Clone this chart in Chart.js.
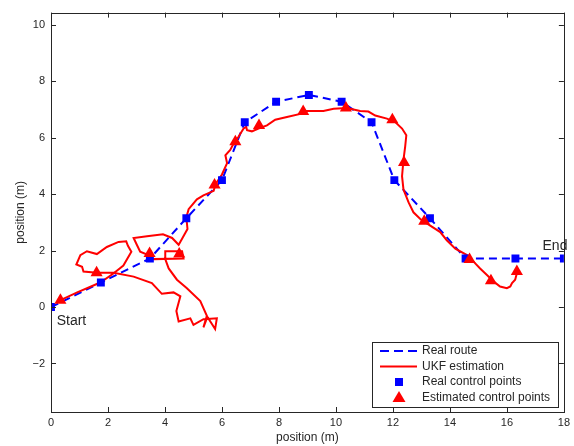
<!DOCTYPE html>
<html>
<head>
<meta charset="utf-8">
<script src="https://cdn.jsdelivr.net/npm/chart.js@4/dist/chart.umd.min.js"></script>
<style>
  html, body { margin: 0; padding: 0; background: #fff; }
  #wrap { width: 574px; height: 446px; }
</style>
</head>
<body>
<div id="wrap"><canvas id="chart" width="574" height="446"></canvas></div>
<script>
// Real route / control points (m)
const realX = [0, 1.75, 3.47, 4.75, 6.0, 6.8, 7.9, 9.05, 10.2, 11.25, 12.05, 13.3, 14.55, 16.3, 18];
const realY = [0, 0.87, 1.72, 3.15, 4.5, 6.55, 7.28, 7.52, 7.28, 6.55, 4.5, 3.15, 1.72, 1.72, 1.72];

// Estimated control points (m)
const estX = [0.33, 1.6, 3.46, 4.5, 5.74, 6.47, 7.3, 8.85, 10.35, 11.98, 12.39, 13.1, 14.69, 15.44, 16.35];
const estY = [0.24, 1.22, 1.9, 1.88, 4.33, 5.86, 6.44, 6.93, 7.06, 6.64, 5.13, 3.04, 1.69, 0.93, 1.26];

// UKF estimated trajectory [x, y] (m)
const ukfPath = [
  [0.26,0.21],[0.92,0.52],[1.73,0.87],[2.19,1.19],[2.54,1.47],[2.82,1.96],
  [2.70,2.17],[2.64,2.33],[2.37,2.31],[1.96,2.13],[1.61,1.88],[1.26,1.98],[1.03,1.84],[0.89,1.51],[1.09,1.43],[1.14,1.26],[1.61,1.22],
  [2.20,1.22],[2.90,1.08],[3.54,0.85],[3.89,0.47],[4.30,0.52],[4.54,0.38],[4.40,-0.14],[4.48,-0.51],[4.89,-0.40],[5.00,-0.63],[5.35,-0.43],[5.82,-0.40],[5.76,-0.78],[5.49,-0.35],[5.35,-0.72],
  [5.47,-0.31],[5.24,0.21],[4.77,0.67],[4.42,0.97],[4.13,1.37],[4.01,1.70],
  [4.01,1.98],[4.60,1.98],[4.65,1.72],[3.60,1.70],[3.42,1.84],[3.13,1.96],[3.02,2.19],[2.90,2.45],[3.37,2.51],[3.93,2.58],[4.25,2.45],[4.48,2.21],[4.60,2.42],[4.79,2.77],[4.75,3.18],[4.83,3.47],
  [5.12,3.82],[5.35,3.96],[5.71,4.12],[5.77,4.35],[6.00,4.70],[6.18,5.10],[6.12,5.38],[6.29,5.57],[6.41,5.80],[6.58,6.04],[6.76,6.33],[6.85,6.39],[6.88,6.27],[7.05,6.23],[7.28,6.33],[7.58,6.44],[7.87,6.64],[8.28,6.74],[8.75,6.85],
  [8.86,6.95],[9.56,6.95],[9.92,7.03],[10.39,7.06],[10.85,6.95],[11.14,6.93],[11.38,6.79],[11.79,6.68],[12.08,6.56],[12.32,6.33],[12.47,6.09],[12.43,5.69],[12.37,5.22],[12.32,4.64],[12.37,4.17],[12.55,3.71],[12.72,3.36],[12.96,3.12],[13.31,2.89],[13.66,2.66],
  [13.89,2.37],[14.19,2.07],[14.60,1.84],[14.83,1.61],[15.06,1.37],[15.30,1.14],[15.53,0.91],[15.76,0.73],[16.00,0.67],[16.12,0.73],[16.18,0.85],[16.29,0.97],[16.35,1.20]
];

// Axis ticks
const xTicks = [0, 2, 4, 6, 8, 10, 12, 14, 16, 18];
const yTicks = [-2, 0, 2, 4, 6, 8, 10];

// Text annotations
const notes = [
  { text: 'Start', x: 0.2, y: -0.5 },
  { text: 'End', x: 17.25, y: 2.15 }
];
const legendLabels = ['Real route', 'UKF estimation', 'Real control points', 'Estimated control points'];

const FONT = '"Liberation Sans", Arial, Helvetica, sans-serif';
const INK = '#262626';
const BLUE = '#0000ff';
const RED = '#ff0000';

const toPts = (xs, ys) => xs.map((x, i) => ({ x: x, y: ys[i] }));

// Frame with inward ticks on all four sides, MATLAB style
const framePlugin = {
  id: 'frame',
  afterDatasetsDraw(chart) {
    const { ctx, chartArea: a, scales: { x, y } } = chart;
    ctx.save();
    ctx.strokeStyle = INK;
    ctx.lineWidth = 1;
    ctx.strokeRect(Math.round(a.left) + 0.5, Math.round(a.top) + 0.5,
      Math.round(a.right - a.left), Math.round(a.bottom - a.top));
    ctx.beginPath();
    const len = 5;
    xTicks.forEach(v => {
      const px = Math.round(x.getPixelForValue(v)) + 0.5;
      ctx.moveTo(px, a.bottom); ctx.lineTo(px, a.bottom - len);
      ctx.moveTo(px, a.top); ctx.lineTo(px, a.top + len);
    });
    yTicks.forEach(v => {
      const py = Math.round(y.getPixelForValue(v)) + 0.5;
      ctx.moveTo(a.left, py); ctx.lineTo(a.left + len, py);
      ctx.moveTo(a.right, py); ctx.lineTo(a.right - len, py);
    });
    ctx.stroke();
    ctx.restore();
  },
  afterDraw(chart) {
    const { ctx, scales: { x, y } } = chart;
    ctx.save();
    // Start / End labels
    ctx.fillStyle = INK;
    ctx.font = '14px ' + FONT;
    ctx.textAlign = 'left';
    ctx.textBaseline = 'middle';
    notes.forEach(n => ctx.fillText(n.text, x.getPixelForValue(n.x), y.getPixelForValue(n.y)));

    // legend box
    const L = 372, T = 342, R = 558, B = 407;
    ctx.fillStyle = '#fff';
    ctx.fillRect(L, T, R - L, B - T);
    ctx.strokeStyle = INK;
    ctx.lineWidth = 1;
    ctx.strokeRect(L + 0.5, T + 0.5, R - L, B - T);
    const rows = [351, 366.5, 382, 398];
    ctx.font = '12px ' + FONT;
    ctx.fillStyle = INK;
    legendLabels.forEach((t, i) => ctx.fillText(t, 422, rows[i]));

    ctx.lineWidth = 2;
    ctx.strokeStyle = BLUE;
    ctx.setLineDash([9, 5]);
    ctx.beginPath(); ctx.moveTo(380, rows[0]); ctx.lineTo(417, rows[0]); ctx.stroke();
    ctx.setLineDash([]);
    ctx.strokeStyle = RED;
    ctx.beginPath(); ctx.moveTo(380, rows[1]); ctx.lineTo(417, rows[1]); ctx.stroke();
    ctx.fillStyle = BLUE;
    ctx.fillRect(395, rows[2] - 4, 8, 8);
    ctx.fillStyle = RED;
    ctx.beginPath();
    ctx.moveTo(399, rows[3] - 7);
    ctx.lineTo(405.5, rows[3] + 4);
    ctx.lineTo(392.5, rows[3] + 4);
    ctx.closePath();
    ctx.fill();
    ctx.restore();
  }
};

new Chart(document.getElementById('chart'), {
  type: 'scatter',
  data: {
    datasets: [
      {
        label: 'Real route',
        data: toPts(realX, realY),
        showLine: true,
        borderColor: BLUE,
        borderWidth: 2,
        borderDash: [8, 5],
        pointRadius: 0,
        order: 4
      },
      {
        label: 'UKF estimation',
        data: ukfPath.map(p => ({ x: p[0], y: p[1] })),
        showLine: true,
        borderColor: RED,
        borderWidth: 2,
        pointRadius: 0,
        order: 3
      },
      {
        label: 'Real control points',
        data: toPts(realX, realY),
        pointStyle: 'rect',
        pointRadius: 5.6,
        backgroundColor: BLUE,
        borderColor: BLUE,
        borderWidth: 0,
        order: 2
      },
      {
        label: 'Estimated control points',
        data: toPts(estX, estY),
        pointStyle: 'triangle',
        pointRadius: 7,
        backgroundColor: RED,
        borderColor: RED,
        borderWidth: 0,
        order: 1
      }
    ]
  },
  options: {
    responsive: false,
    animation: false,
    layout: { padding: { left: 0, right: 10, top: 7, bottom: 0 } },
    plugins: {
      legend: { display: false },
      tooltip: { enabled: false }
    },
    scales: {
      x: {
        type: 'linear',
        min: 0,
        max: 18,
        afterBuildTicks: s => { s.ticks = xTicks.map(v => ({ value: v })); },
        afterFit: s => { s.height = 34; },
        grid: { display: false, drawTicks: false },
        border: { display: false },
        ticks: { padding: 4, color: INK, font: { family: FONT, size: 11 } },
        title: { display: true, text: 'position (m)', color: INK, padding: { top: 0, bottom: 1 }, font: { family: FONT, size: 12 } }
      },
      y: {
        type: 'linear',
        min: -3.72,
        max: 10.44,
        afterBuildTicks: s => { s.ticks = yTicks.map(v => ({ value: v })); },
        afterFit: s => { s.width = 51; },
        grid: { display: false, drawTicks: false },
        border: { display: false },
        ticks: {
          padding: 6,
          color: INK,
          font: { family: FONT, size: 11 },
          callback: v => (v < 0 ? '\u2212' + Math.abs(v) : String(v))
        },
        title: { display: true, text: 'position (m)', color: INK, padding: { top: 13, bottom: 0 }, font: { family: FONT, size: 12 } }
      }
    }
  },
  plugins: [framePlugin]
});
</script>
</body>
</html>
